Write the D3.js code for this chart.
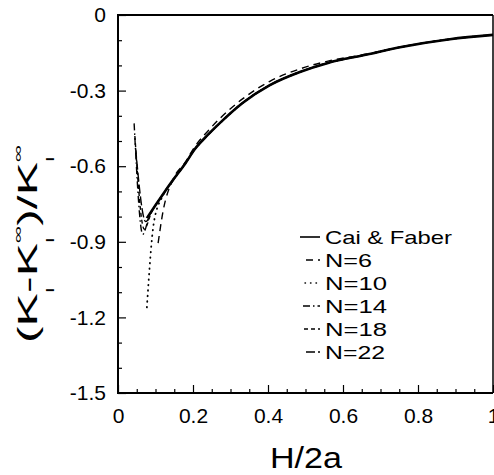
<!DOCTYPE html>
<html>
<head>
<meta charset="utf-8">
<script src="https://cdn.jsdelivr.net/npm/d3@7"></script>
<style>
  body { margin: 0; background: #fff; }
  svg { display: block; font-family: Arial, "Liberation Sans", Helvetica, sans-serif; }
</style>
</head>
<body>
<svg id="chart" width="494" height="475"></svg>
<script>
// ---- data ----
const xTickValues = [0, 0.2, 0.4, 0.6, 0.8, 1];
const xTickLabels = ["0", "0.2", "0.4", "0.6", "0.8", "1"];
const yTickValues = [0, -0.3, -0.6, -0.9, -1.2, -1.5];
const yTickLabels = ["0", "-0.3", "-0.6", "-0.9", "-1.2", "-1.5"];
const xMinorTicks = [0.05,0.1,0.15,0.25,0.3,0.35,0.45,0.5,0.55,0.65,0.7,0.75,0.85,0.9,0.95];
const yMinorTicks = [-0.1,-0.2,-0.4,-0.5,-0.7,-0.8,-1.0,-1.1,-1.3,-1.4];

const seriesNames = ["Cai & Faber", "N=6", "N=10", "N=14", "N=18", "N=22"];

const caiFaberX = [0.077, 0.099, 0.12, 0.147, 0.179, 0.205, 0.24, 0.272, 0.333, 0.405, 0.485, 0.56, 0.664, 0.752, 0.885, 1.0];
const caiFaberY = [-0.806, -0.757, -0.711, -0.654, -0.59, -0.532, -0.475, -0.428, -0.348, -0.278, -0.226, -0.19, -0.157, -0.128, -0.096, -0.079];

const n6X = [0.107, 0.12, 0.147, 0.179, 0.205, 0.24, 0.272, 0.333, 0.405, 0.485, 0.56, 0.664, 0.752, 0.885, 1.0];
const n6Y = [-0.905, -0.78, -0.652, -0.585, -0.522, -0.46, -0.41, -0.332, -0.263, -0.214, -0.183, -0.155, -0.127, -0.096, -0.079];

const n10X = [0.077, 0.096, 0.12, 0.147, 0.179, 0.205, 0.24, 0.272, 0.333, 0.405, 0.485, 0.56, 0.664, 0.752, 0.885, 1.0];
const n10Y = [-1.16, -0.82, -0.716, -0.656, -0.591, -0.533, -0.476, -0.429, -0.349, -0.279, -0.227, -0.19, -0.157, -0.128, -0.096, -0.079];

const n14X = [0.043, 0.066, 0.085, 0.099, 0.12, 0.147, 0.179, 0.205, 0.24, 0.272, 0.333, 0.405, 0.485, 0.56, 0.664, 0.752, 0.885, 1.0];
const n14Y = [-0.43, -0.87, -0.79, -0.757, -0.711, -0.654, -0.59, -0.532, -0.475, -0.428, -0.348, -0.278, -0.226, -0.19, -0.157, -0.128, -0.096, -0.079];

const n18X = [0.045, 0.07, 0.09, 0.12, 0.147, 0.179, 0.205, 0.24, 0.272, 0.333, 0.405, 0.485, 0.56, 0.664, 0.752, 0.885, 1.0];
const n18Y = [-0.48, -0.85, -0.78, -0.712, -0.655, -0.59, -0.532, -0.475, -0.428, -0.348, -0.278, -0.226, -0.19, -0.157, -0.128, -0.096, -0.079];

const n22X = [0.047, 0.074, 0.095, 0.12, 0.147, 0.179, 0.205, 0.24, 0.272, 0.333, 0.405, 0.485, 0.56, 0.664, 0.752, 0.885, 1.0];
const n22Y = [-0.53, -0.82, -0.766, -0.712, -0.655, -0.59, -0.532, -0.475, -0.428, -0.348, -0.278, -0.226, -0.19, -0.157, -0.128, -0.096, -0.079];

// ---- build ----
const zip = (xs, ys) => xs.map((x, i) => [x, ys[i]]);
const series = [
  { name: seriesNames[0], pts: zip(caiFaberX, caiFaberY), width: 2.6, dash: null,            cap: "butt" },
  { name: seriesNames[1], pts: zip(n6X, n6Y),             width: 1.4, dash: "7,5",          cap: "butt" },
  { name: seriesNames[2], pts: zip(n10X, n10Y),           width: 1.8, dash: "0.5,5",        cap: "round" },
  { name: seriesNames[3], pts: zip(n14X, n14Y),           width: 1.4, dash: "7,3,1.5,3",    cap: "butt" },
  { name: seriesNames[4], pts: zip(n18X, n18Y),           width: 1.4, dash: "4,3",          cap: "butt" },
  { name: seriesNames[5], pts: zip(n22X, n22Y),           width: 1.4, dash: "9,3",          cap: "butt" }
];

const svg = d3.select("#chart");
const mLeft = 118, mRight = 493, mTop = 15, mBottom = 393;
const x = d3.scaleLinear().domain([0, 1]).range([mLeft, mRight]);
const y = d3.scaleLinear().domain([-1.5, 0]).range([mBottom, mTop]);

// frame
svg.append("line").attr("x1", mLeft).attr("x2", mLeft).attr("y1", mTop - 1).attr("y2", mBottom + 1)
  .attr("stroke", "#000").attr("stroke-width", 2);
svg.append("line").attr("x1", mLeft - 1).attr("x2", mRight).attr("y1", mTop).attr("y2", mTop)
  .attr("stroke", "#000").attr("stroke-width", 2);
svg.append("line").attr("x1", mLeft - 1).attr("x2", mRight).attr("y1", mBottom).attr("y2", mBottom)
  .attr("stroke", "#000").attr("stroke-width", 1.8);
svg.append("line").attr("x1", mRight).attr("x2", mRight).attr("y1", mTop).attr("y2", mBottom)
  .attr("stroke", "#000").attr("stroke-width", 1.5);

// axes
const fontSize = 21;
const yAxis = d3.axisLeft(y).tickValues(yTickValues).tickSize(-8).tickPadding(12)
  .tickFormat((d, i) => yTickLabels[i]);
const yMinor = d3.axisLeft(y).tickValues(yMinorTicks).tickSize(-4).tickFormat("");
const xAxis = d3.axisBottom(x).tickValues(xTickValues).tickSize(-8).tickPadding(15)
  .tickFormat((d, i) => xTickLabels[i]);
const xMinor = d3.axisBottom(x).tickValues(xMinorTicks).tickSize(-4).tickFormat("");

function styleAxis(g) {
  g.select(".domain").remove();
  g.selectAll("line").attr("stroke", "#000").attr("stroke-width", 1.2);
  g.selectAll("text").attr("fill", "#000").style("font-size", fontSize + "px")
    .style("font-family", "Arial, 'Liberation Sans', sans-serif");
}
svg.append("g").attr("transform", `translate(${mLeft},0)`).call(yAxis).call(styleAxis);
svg.append("g").attr("transform", `translate(${mLeft},0)`).call(yMinor).call(styleAxis);
svg.append("g").attr("transform", `translate(0,${mBottom})`).call(xAxis).call(styleAxis);
svg.append("g").attr("transform", `translate(0,${mBottom})`).call(xMinor).call(styleAxis);

// lines
const line = d3.line().x(d => x(d[0])).y(d => y(d[1])).curve(d3.curveMonotoneX);
const plot = svg.append("g");
series.slice().reverse().forEach(s => {
  plot.append("path").datum(s.pts)
    .attr("d", line)
    .attr("fill", "none")
    .attr("stroke", "#000")
    .attr("stroke-width", s.width)
    .attr("stroke-linecap", s.cap)
    .attr("stroke-linejoin", "round")
    .attr("stroke-dasharray", s.dash);
});

// legend
const legendX2 = 320, legendTextX = 325;
const legendRowY = [237, 260, 283, 306, 329, 352];
const legendTextLen = [127, 47, 62, 62, 62, 60];
const legendSampleX1 = [300, 306, 305, 303, 304, 306];
const legend = svg.append("g");
series.forEach((s, i) => {
  legend.append("line")
    .attr("x1", legendSampleX1[i]).attr("x2", legendX2)
    .attr("y1", legendRowY[i]).attr("y2", legendRowY[i])
    .attr("stroke", "#000")
    .attr("stroke-width", i === 0 ? 1.6 : 1.4)
    .attr("stroke-linecap", s.cap)
    .attr("stroke-dasharray", s.dash);
  legend.append("text")
    .attr("x", legendTextX).attr("y", legendRowY[i] + 7)
    .attr("textLength", legendTextLen[i])
    .attr("lengthAdjust", "spacingAndGlyphs")
    .style("font-size", "19px")
    .attr("fill", "#000")
    .text(s.name);
});

// x axis title
svg.append("text")
  .attr("x", 270).attr("y", 468)
  .attr("textLength", 72).attr("lengthAdjust", "spacingAndGlyphs")
  .style("font-size", "29px").attr("fill", "#000")
  .text("H/2a");

// y axis title: (K_I - K_I^∞)/K_I^∞, rotated and stretched
const yt = svg.append("text")
  .attr("transform", "translate(37,343) rotate(-90) scale(1.85,1)")
  .attr("x", 0).attr("y", 0)
  .style("font-size", "27px").attr("fill", "#000");
yt.append("tspan").text("(K");
yt.append("tspan").attr("dy", 17).style("font-size", "11px").text("I");
yt.append("tspan").attr("dx", -3).attr("dy", -17).text("-K");
yt.append("tspan").attr("dy", 17).style("font-size", "11px").text("I");
yt.append("tspan").attr("dx", -3).attr("dy", -32).style("font-size", "13px").text("∞");
yt.append("tspan").attr("dy", 15).text(")/K");
yt.append("tspan").attr("dy", 17).style("font-size", "11px").text("I");
yt.append("tspan").attr("dx", -3).attr("dy", -32).style("font-size", "13px").text("∞");
</script>
</body>
</html>
